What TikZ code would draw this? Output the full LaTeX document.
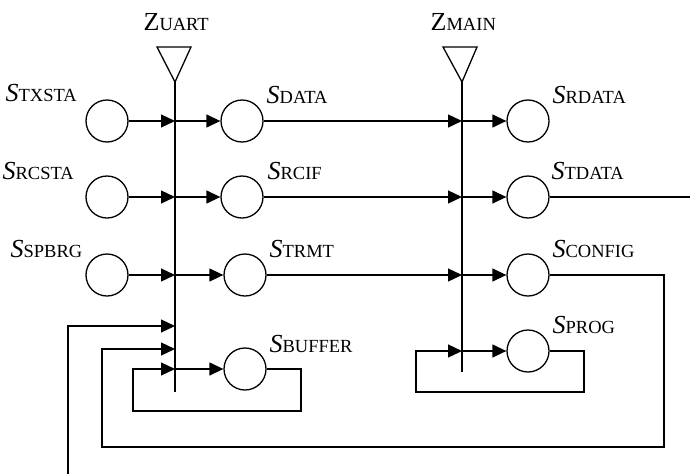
\documentclass[tikz,border=0pt]{standalone}
\usepackage{fontspec}
\setmainfont{Liberation Serif}
\usetikzlibrary{arrows.meta}

% state label: italic S with an upright subscript-sized name
\newcommand\stlabel[2]{{\fontsize{26}{26}\selectfont\itshape #1}{\fontsize{18.5}{18.5}\selectfont #2}}
\newcommand\zlabel[2]{{\fontsize{26}{26}\selectfont #1}{\fontsize{18.5}{18.5}\selectfont #2}}

\begin{document}
\begin{tikzpicture}[x=1pt,y=-1pt,
  every path/.style={line width=1.3pt},
  state/.style={circle,draw,line width=1.3pt,minimum size=42pt,inner sep=0pt},
  lab/.style={anchor=base west,inner sep=0pt},
  flow/.style={-{Triangle[length=14pt,width=13pt]}},
  wire/.style={line join=miter}]
\useasboundingbox (0,0) rectangle (690,474);

% hubs: antenna triangles and vertical bars
\draw[line join=miter] (157,47) -- (191,47) -- (175,82) -- cycle;
\draw[line join=miter] (443,47) -- (477,47) -- (462,82) -- cycle;
\coordinate (utop) at (175,82);
\coordinate (ubot) at (175,392);
\coordinate (mtop) at (462,82);
\coordinate (mbot) at (462,372);
\draw (utop) -- (ubot);
\draw (mtop) -- (mbot);
\node[lab] (zu) at (143,30) {\zlabel{Z}{UART}};
\node[lab] (zm) at (430,30) {\zlabel{Z}{MAIN}};

% states
\node[state] (txsta) at (107,121) {};
\node[state] (rcsta) at (107,197) {};
\node[state] (spbrg) at (107,275) {};
\node[state] (data) at (242,121) {};
\node[state] (rcif) at (242,197) {};
\node[state] (trmt) at (245,275) {};
\node[state] (buffer) at (245,369) {};
\node[state] (rdata) at (528,121) {};
\node[state] (tdata) at (528,197) {};
\node[state] (config) at (528,275) {};
\node[state] (prog) at (528,351) {};

% labels
\node[lab] (ltxsta) at (5,101) {\stlabel{S}{TXSTA}};
\node[lab] (lrcsta) at (2,179) {\stlabel{S}{RCSTA}};
\node[lab] (lspbrg) at (10,257) {\stlabel{S}{SPBRG}};
\node[lab] (ldata) at (266,103) {\stlabel{S}{DATA}};
\node[lab] (lrcif) at (267,179) {\stlabel{S}{RCIF}};
\node[lab] (ltrmt) at (269,257) {\stlabel{S}{TRMT}};
\node[lab] (lbuffer) at (269,352) {\stlabel{S}{BUFFER}};
\node[lab] (lrdata) at (552,103) {\stlabel{S}{RDATA}};
\node[lab] (ltdata) at (551,179) {\stlabel{S}{TDATA}};
\node[lab] (lconfig) at (552,257) {\stlabel{S}{CONFIG}};
\node[lab] (lprog) at (552,333) {\stlabel{S}{PROG}};

% junctions on the bars
\coordinate (u1) at (175,121);
\coordinate (u2) at (175,197);
\coordinate (u3) at (175,275);
\coordinate (u4) at (175,326);
\coordinate (u5) at (175,349);
\coordinate (u6) at (175,369);
\coordinate (m1) at (462,121);
\coordinate (m2) at (462,197);
\coordinate (m3) at (462,275);
\coordinate (m6) at (462,351);

% inputs into the UART bar
\draw[flow] (txsta) -- (u1);
\draw[flow] (rcsta) -- (u2);
\draw[flow] (spbrg) -- (u3);
\draw[flow] (u1) -- (data);
\draw[flow] (u2) -- (rcif);
\draw[flow] (u3) -- (trmt);
\draw[flow] (u6) -- (buffer);

% UART outputs into the MAIN bar
\draw[flow] (data) -- (m1);
\draw[flow] (rcif) -- (m2);
\draw[flow] (trmt) -- (m3);
\draw[flow] (m1) -- (rdata);
\draw[flow] (m2) -- (tdata);
\draw[flow] (m3) -- (config);
\draw[flow] (m6) -- (prog);

% external lines
\coordinate (tout) at (690,197);
\draw (tdata) -- (tout);
\coordinate (ext) at (68,474);
\draw[flow,wire] (ext) |- (u4);

% feedback loops
\draw[flow,wire] (config.east) -- (664,275) -- (664,447) -- (102,447) -- (102,349) -- (u5);
\draw[flow,wire] (buffer.east) -- (301,369) -- (301,411) -- (133,411) -- (133,369) -- (u6);
\draw[flow,wire] (prog.east) -- (584,351) -- (584,392) -- (416,392) -- (416,351) -- (m6);
\end{tikzpicture}
\end{document}
